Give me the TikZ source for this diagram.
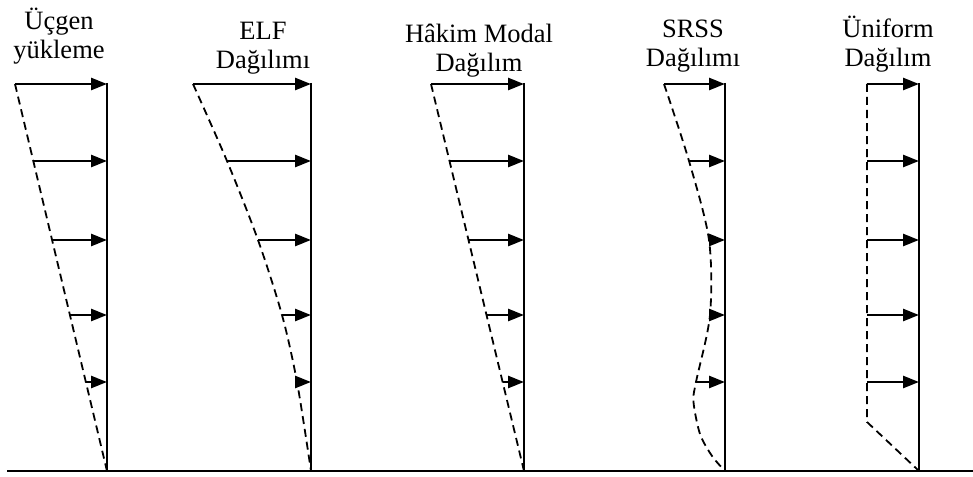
\documentclass[tikz,border=0pt]{standalone}
\usepackage{fontspec}
\setmainfont{Liberation Serif}
\usetikzlibrary{arrows.meta}
\begin{document}
\begin{tikzpicture}[x=1pt,y=-1pt,
  wall/.style={line width=2pt},
  load/.style={line width=2.6pt,-{Triangle[length=16pt,width=12pt]}},
  envelope/.style={line width=1.8pt,dash pattern=on 8pt off 5pt},
  ground/.style={line width=2.4pt},
  title/.style={font=\fontsize{26.5}{29}\selectfont,inner sep=0pt,anchor=base}]
\useasboundingbox (0,0) rectangle (973,476);

% ground line
\coordinate (gl) at (7,471);
\coordinate (gr) at (973,471);
\draw[ground] (gl) -- (gr);

% walls: column index / x position
\foreach \i/\x in {1/107,2/311,3/524,4/725,5/919}{
  \coordinate (top\i) at (\x,83);
  \coordinate (foot\i) at (\x,471);
  \draw[wall] (top\i) -- (foot\i);
}

% load levels and starting points of the arrows
\def\levels{1/84,2/161,3/240,4/315,5/382}
\foreach \i/\xa/\xb/\xc/\xd/\xe/\xw in {
  1/15/33.5/52/70/86/107,
  2/193/227/258/282/297/311,
  3/431/449/468/487/503/524,
  4/664/689/709/710/696/725,
  5/867/867/867/867/867/919}{
  \coordinate (s\i1) at (\xa,84);
  \coordinate (s\i2) at (\xb,161);
  \coordinate (s\i3) at (\xc,240);
  \coordinate (s\i4) at (\xd,315);
  \coordinate (s\i5) at (\xe,382);
  \foreach \j/\y in \levels{
    \coordinate (w\i\j) at (\xw,\y);
  }
}

% load envelopes
\draw[envelope] (s11) -- (foot1);
\draw[envelope] plot[smooth] coordinates {(s21) (s22) (s23) (s24) (s25) (foot2)};
\draw[envelope] (s31) -- (foot3);
\coordinate (k41) at (693.5,402);
\coordinate (k42) at (700,434);
\coordinate (k43) at (712,456);
\draw[envelope] plot[smooth] coordinates {(s41) (s42) (s43) (s44) (s45) (k41) (k42) (k43) (foot4)};
\coordinate (k5) at (867,422);
\draw[envelope] (s51) -- (k5) -- (foot5);

% lateral load arrows
\foreach \i in {1,...,5}{
  \foreach \j in {1,...,5}{
    \draw[load] (s\i\j) -- (w\i\j);
  }
}

% titles
\node[title] (t1a) at (59,30) {Üçgen};
\node[title] (t1b) at (59,59) {yükleme};
\node[title] (t2a) at (263,40) {ELF};
\node[title] (t2b) at (263,69) {Dağılımı};
\node[title] (t3a) at (479,43) {Hâkim Modal};
\node[title] (t3b) at (479,72) {Dağılım};
\node[title] (t4a) at (693,38) {SRSS};
\node[title] (t4b) at (693,67) {Dağılımı};
\node[title] (t5a) at (888,38) {Üniform};
\node[title] (t5b) at (888,67) {Dağılım};
\end{tikzpicture}
\end{document}
